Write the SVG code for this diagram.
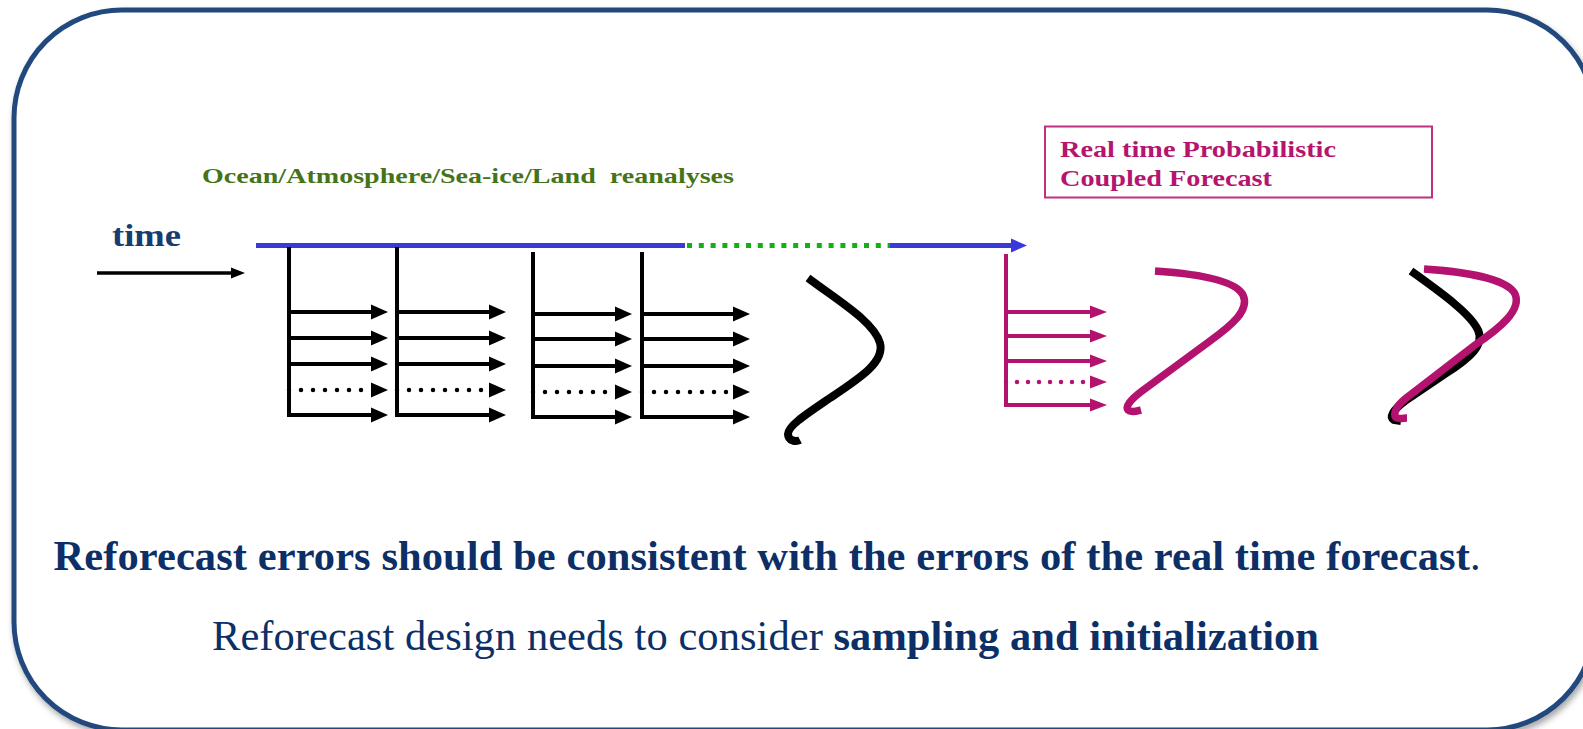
<svg xmlns="http://www.w3.org/2000/svg" width="1583" height="729" viewBox="0 0 1583 729">
<style>
.blk{stroke:#000;stroke-width:4;fill:none}
.blkdot{stroke:#000;stroke-width:4.5;fill:none;stroke-dasharray:0 12;stroke-linecap:round}
.mag{stroke:#b3126e;stroke-width:4;fill:none}
.magdot{stroke:#b3126e;stroke-width:4.5;fill:none;stroke-dasharray:0 11;stroke-linecap:round}
.curveK{stroke:#000;stroke-width:8;fill:none}
.curveM{stroke:#b3126e;stroke-width:7.5;fill:none}
.serif{font-family:"Liberation Serif","Times New Roman",serif}
</style>
<defs>
<filter id="sh" x="-5%" y="-5%" width="110%" height="115%">
<feDropShadow dx="2" dy="4" stdDeviation="3" flood-color="#000" flood-opacity="0.35"/>
</filter>
<marker id="ahK" markerUnits="userSpaceOnUse" markerWidth="18" markerHeight="18" viewBox="0 -9 18 18" refX="1" refY="0" orient="auto"><path d="M0,-7.5 L17,0 L0,7.5z" fill="#000"/></marker>
<marker id="ahM" markerUnits="userSpaceOnUse" markerWidth="18" markerHeight="16" viewBox="0 -8 18 16" refX="1" refY="0" orient="auto"><path d="M0,-6.5 L17,0 L0,6.5z" fill="#b3126e"/></marker>
<marker id="ahT" markerUnits="userSpaceOnUse" markerWidth="15" markerHeight="14" viewBox="0 -7 15 14" refX="1" refY="0" orient="auto"><path d="M0,-5.5 L14,0 L0,5.5z" fill="#000"/></marker>
<marker id="ahB" markerUnits="userSpaceOnUse" markerWidth="18" markerHeight="16" viewBox="0 -8 18 16" refX="1" refY="0" orient="auto"><path d="M0,-7 L16,0 L0,7z" fill="#3a3ad8"/></marker>
</defs>

<g id="frame">
<rect x="14" y="10" width="1581" height="720" rx="108" ry="108" fill="#fff" stroke="#23497e" stroke-width="5" filter="url(#sh)"/>
</g>

<g id="reanalyses-label">
<text class="serif" x="202" y="182.5" font-size="22" font-weight="bold" fill="#447417" textLength="532" lengthAdjust="spacingAndGlyphs" xml:space="preserve">Ocean/Atmosphere/Sea-ice/Land  reanalyses</text>
</g>

<g id="time-label">
<text class="serif" x="112" y="246" font-size="31" font-weight="bold" fill="#173c72" textLength="69" lengthAdjust="spacingAndGlyphs">time</text>
</g>

<g id="forecast-box">
<rect x="1045" y="126.5" width="387" height="71" fill="none" stroke="#c0307f" stroke-width="2"/>
<text class="serif" x="1060" y="157" font-size="24" font-weight="bold" fill="#b5156e" textLength="276" lengthAdjust="spacingAndGlyphs">Real time Probabilistic</text>
<text class="serif" x="1060" y="186" font-size="24" font-weight="bold" fill="#b5156e" textLength="212" lengthAdjust="spacingAndGlyphs">Coupled Forecast</text>
</g>

<g id="connectors">
<line x1="97" y1="273" x2="232" y2="273" stroke="#000" stroke-width="3.3" marker-end="url(#ahT)"/>
<line x1="256" y1="245.5" x2="685" y2="245.5" stroke="#3a3ad8" stroke-width="5"/>
<line x1="687" y1="245.5" x2="890" y2="245.5" stroke="#12b012" stroke-width="5" stroke-dasharray="5 6.8"/>
<line x1="890" y1="245.5" x2="1012" y2="245.5" stroke="#3a3ad8" stroke-width="5" marker-end="url(#ahB)"/>
</g>

<g id="ensemble-1">
<path class="blk" d="M289 247 V415 H372" marker-end="url(#ahK)"/>
<line class="blk" x1="289" y1="312" x2="372" y2="312" marker-end="url(#ahK)"/>
<line class="blk" x1="289" y1="338" x2="372" y2="338" marker-end="url(#ahK)"/>
<line class="blk" x1="289" y1="364" x2="372" y2="364" marker-end="url(#ahK)"/>
<line class="blkdot" x1="289" y1="390" x2="372" y2="390" marker-end="url(#ahK)"/>
</g>
<g id="ensemble-2">
<path class="blk" d="M397 247 V415 H490" marker-end="url(#ahK)"/>
<line class="blk" x1="397" y1="312" x2="490" y2="312" marker-end="url(#ahK)"/>
<line class="blk" x1="397" y1="338" x2="490" y2="338" marker-end="url(#ahK)"/>
<line class="blk" x1="397" y1="364" x2="490" y2="364" marker-end="url(#ahK)"/>
<line class="blkdot" x1="397" y1="390" x2="490" y2="390" marker-end="url(#ahK)"/>
</g>
<g id="ensemble-3">
<path class="blk" d="M533 252 V417 H616" marker-end="url(#ahK)"/>
<line class="blk" x1="533" y1="314" x2="616" y2="314" marker-end="url(#ahK)"/>
<line class="blk" x1="533" y1="339" x2="616" y2="339" marker-end="url(#ahK)"/>
<line class="blk" x1="533" y1="366" x2="616" y2="366" marker-end="url(#ahK)"/>
<line class="blkdot" x1="533" y1="392" x2="616" y2="392" marker-end="url(#ahK)"/>
</g>
<g id="ensemble-4">
<path class="blk" d="M642 252 V417 H734" marker-end="url(#ahK)"/>
<line class="blk" x1="642" y1="314" x2="734" y2="314" marker-end="url(#ahK)"/>
<line class="blk" x1="642" y1="339" x2="734" y2="339" marker-end="url(#ahK)"/>
<line class="blk" x1="642" y1="366" x2="734" y2="366" marker-end="url(#ahK)"/>
<line class="blkdot" x1="642" y1="392" x2="734" y2="392" marker-end="url(#ahK)"/>
</g>

<g id="reforecast-distribution">
<path class="curveK" d="M808 278 C840 302 874 322 880 343 C885 362 860 378 830 398 C805 415 788 426 788 434 C788 441 796 442 800 440"/>
</g>

<g id="realtime-ensemble">
<path class="mag" d="M1006 254 V405 H1091" marker-end="url(#ahM)"/>
<line class="mag" x1="1006" y1="312" x2="1091" y2="312" marker-end="url(#ahM)"/>
<line class="mag" x1="1006" y1="336" x2="1091" y2="336" marker-end="url(#ahM)"/>
<line class="mag" x1="1006" y1="361" x2="1091" y2="361" marker-end="url(#ahM)"/>
<line class="magdot" x1="1006" y1="382" x2="1091" y2="382" marker-end="url(#ahM)"/>
</g>

<g id="realtime-distribution">
<path class="curveM" d="M1155 271 C1200 274 1236 281 1243 295 C1250 310 1232 325 1210 341 L1142 391 C1130 400 1125 407 1128 410 C1131 413 1137 411 1141 410"/>
</g>

<g id="comparison">
<path class="curveK" d="M1411 271 C1440 292 1470 313 1478 330 C1485 345 1470 358 1445 374 L1405 401 C1393 410 1389 417 1394 420 L1401 421"/>
<path class="curveM" d="M1424 269 C1470 272 1508 280 1515 294 C1522 310 1500 328 1475 345 L1405 399 C1394 408 1393 416 1397 418 C1400 419 1404 418 1407 418"/>
</g>

<g id="conclusion">
<text class="serif" x="53.5" y="570" font-size="42.5" fill="#0b2f66" textLength="1427" lengthAdjust="spacing"><tspan font-weight="bold">Reforecast errors should be consistent with the errors of the real time forecast</tspan>.</text>
<text class="serif" x="212" y="650" font-size="42.5" fill="#0b2f66" textLength="1107" lengthAdjust="spacing">Reforecast design needs to consider <tspan font-weight="bold">sampling and initialization</tspan></text>
</g>
</svg>
